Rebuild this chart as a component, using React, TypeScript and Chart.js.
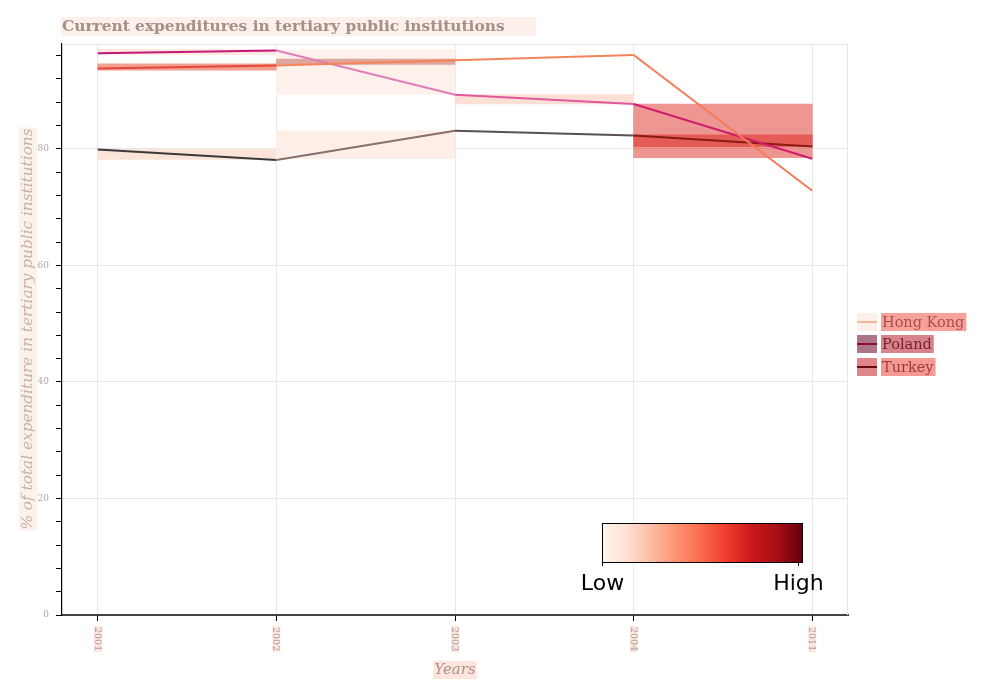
import React, { useEffect, useRef } from 'react';
import { Chart, registerables } from 'chart.js';

Chart.register(...registerables);

// ---- data ----
const years = ['2001', '2002', '2003', '2004', '2011'];
const seriesNames = ['Hong Kong', 'Poland', 'Turkey'];
const hongKong = [93.8, 94.3, 95.2, 96.1, 72.8];
const poland = [96.4, 96.9, 89.3, 87.7, 78.3];
const turkey = [79.9, 78.1, 83.1, 82.3, 80.4];

// interval bands between consecutive years: [low, high] or null
const hongKongBands = [[93.5, 94.6], [94.5, 95.4], null, null];
const polandBands = [[96.2, 97.1], [89.4, 97.0], [87.7, 89.3], [78.5, 87.7]];
const turkeyBands = [[78.2, 79.9], [78.3, 83.1], null, [80.4, 82.4]];

const yMajorTicks = [0, 20, 40, 60, 80];
const yMinorStep = 4;
const colorbarLabels = ['Low', 'High'];

const titleText = 'Current expenditures in tertiary public institutions';
const yTitleText = '% of total expenditure in tertiary public institutions';
const xTitleText = 'Years';

// ---- styles ----
const hkSegColors = ['#e5483a', '#f4845a', '#f4845a', '#f47b55'];
const plSegColors = ['#c0197a', '#e27dba', '#dd5a9c', '#cf1d6c'];
const trSegColors = ['#3a3a3a', '#877069', '#5a5250', '#8a1a14'];
const hkBandColors = ['#f2a08e', '#dea69d', null, null];
const plBandColors = ['#fde7de', '#fef0eb', '#fde0d5', 'rgba(222,45,38,0.5)'];
const trBandColors = ['#fce3d8', '#fdeee8', null, 'rgba(222,45,38,0.55)'];
const legendStyles = [
  { patch: '#fdf0ea', line: '#f9b399', textBg: '#f5a29a', text: '#b04b4b' },
  { patch: '#ad7686', line: '#8a0a45', textBg: '#d7838b', text: '#7a1f30' },
  { patch: '#df868a', line: '#680c10', textBg: '#f29a93', text: '#a23a3a' },
];
const redsStops = ['#fff5f0', '#fee0d2', '#fcbba1', '#fc9272', '#fb6a4a', '#ef3b2c', '#cb181d', '#a50f15', '#67000d'];

const SERIF = '"DejaVu Serif", serif';
const SANS = '"DejaVu Sans", sans-serif';

function lineDataset(label: string, values: number[], segColors: string[], order: number) {
  return {
    type: 'line' as const,
    label,
    data: values.map((v, i) => ({ x: i, y: v })),
    borderColor: segColors[0],
    borderWidth: 2,
    pointRadius: 0,
    pointHoverRadius: 0,
    tension: 0,
    fill: false,
    order,
    segment: { borderColor: (ctx: any) => segColors[ctx.p0DataIndex] },
  };
}

function bandDataset(label: string, bands: (number[] | null)[], colors: (string | null)[], order: number) {
  const data: any[] = [];
  const bg: string[] = [];
  bands.forEach((b, i) => {
    if (b) {
      data.push({ x: i + 0.5, y: b });
      bg.push(colors[i] as string);
    }
  });
  return {
    type: 'bar' as const,
    label: label + ' band',
    data,
    backgroundColor: bg,
    borderWidth: 0,
    grouped: false,
    barPercentage: 1,
    categoryPercentage: 1,
    order,
  };
}

const decorPlugin = {
  id: 'decor',
  beforeDraw(chart: any) {
    const ctx = chart.ctx as CanvasRenderingContext2D;
    const ca = chart.chartArea;
    ctx.save();
    // title
    ctx.fillStyle = '#fdefe9';
    ctx.fillRect(ca.left - 1, 17, 475, 19);
    ctx.font = `bold 15.4px ${SERIF}`;
    ctx.fillStyle = '#a39088';
    ctx.textAlign = 'left';
    ctx.textBaseline = 'middle';
    ctx.fillText(titleText, ca.left, 27);

    // y title
    ctx.save();
    ctx.translate(28, 329);
    ctx.rotate(-Math.PI / 2);
    ctx.font = `italic 15.3px ${SERIF}`;
    const yw = ctx.measureText(yTitleText).width;
    ctx.fillStyle = '#fdf1ec';
    ctx.fillRect(-yw / 2 - 1, -9, yw + 2, 18);
    ctx.fillStyle = '#c5b0ac';
    ctx.textAlign = 'center';
    ctx.textBaseline = 'middle';
    ctx.fillText(yTitleText, 0, 0);
    ctx.restore();

    // x title
    ctx.font = `italic 15px ${SERIF}`;
    const xw = ctx.measureText(xTitleText).width;
    const xc = (ca.left + ca.right) / 2;
    ctx.fillStyle = '#fde4dc';
    ctx.fillRect(xc - xw / 2 - 1, 661, xw + 2, 18);
    ctx.fillStyle = '#a8958e';
    ctx.textAlign = 'center';
    ctx.textBaseline = 'middle';
    ctx.fillText(xTitleText, xc, 670);
    ctx.restore();
  },
  afterDraw(chart: any) {
    const ctx = chart.ctx as CanvasRenderingContext2D;
    const ca = chart.chartArea;
    const xs = chart.scales.x;
    ctx.save();

    // top/right frame
    ctx.strokeStyle = '#e6e6e6';
    ctx.lineWidth = 1;
    ctx.beginPath();
    ctx.moveTo(ca.left, ca.top + 0.5);
    ctx.lineTo(ca.right, ca.top + 0.5);
    ctx.moveTo(ca.right - 0.5, ca.top);
    ctx.lineTo(ca.right - 0.5, ca.bottom);
    ctx.stroke();

    // x tick labels, rotated clockwise
    ctx.font = `9.5px ${SERIF}`;
    years.forEach((label, i) => {
      const px = xs.getPixelForValue(i);
      const w = ctx.measureText(label).width;
      ctx.save();
      ctx.translate(px, ca.bottom + 12);
      ctx.rotate(Math.PI / 2);
      ctx.fillStyle = '#fce6df';
      ctx.fillRect(-1, -4, w + 2, 8);
      ctx.fillStyle = '#ad9d97';
      ctx.textAlign = 'left';
      ctx.textBaseline = 'middle';
      ctx.fillText(label, 0, 0.5);
      ctx.restore();
    });

    // legend
    const lineSets = chart.data.datasets.filter((d: any) => d.type === 'line');
    const lx = ca.right + 9;
    const rowYs = [313, 335, 358];
    ctx.font = `14.5px ${SERIF}`;
    lineSets.forEach((ds: any, i: number) => {
      const st = legendStyles[i];
      const y = rowYs[i];
      ctx.fillStyle = st.patch;
      ctx.fillRect(lx, y, 20, 18);
      ctx.strokeStyle = st.line;
      ctx.lineWidth = 2;
      ctx.beginPath();
      ctx.moveTo(lx, y + 9);
      ctx.lineTo(lx + 20, y + 9);
      ctx.stroke();
      const tw = ctx.measureText(ds.label).width;
      ctx.fillStyle = st.textBg;
      ctx.fillRect(lx + 24, y, tw + 3, 18);
      ctx.fillStyle = st.text;
      ctx.textAlign = 'left';
      ctx.textBaseline = 'middle';
      ctx.fillText(ds.label, lx + 25, y + 10);
    });

    // colorbar
    const cbx = 602, cby = 523, cbw = 200, cbh = 39;
    const grad = ctx.createLinearGradient(cbx, 0, cbx + cbw, 0);
    redsStops.forEach((c, i) => grad.addColorStop(i / (redsStops.length - 1), c));
    ctx.fillStyle = grad;
    ctx.fillRect(cbx, cby, cbw, cbh);
    ctx.strokeStyle = '#000';
    ctx.lineWidth = 1;
    ctx.strokeRect(cbx + 0.5, cby + 0.5, cbw, cbh);
    const tickXs = [cbx + 0.5, cbx + cbw - 3.5];
    ctx.beginPath();
    tickXs.forEach((tx) => {
      ctx.moveTo(tx, cby + cbh);
      ctx.lineTo(tx, cby + cbh + 4);
    });
    ctx.stroke();
    ctx.font = `22px ${SANS}`;
    ctx.fillStyle = '#000';
    ctx.textAlign = 'center';
    ctx.textBaseline = 'alphabetic';
    colorbarLabels.forEach((lab, i) => ctx.fillText(lab, tickXs[i], 590));

    ctx.restore();
  },
};

export default function App() {
  const ref = useRef<HTMLCanvasElement>(null);
  useEffect(() => {
    const canvas = ref.current!;
    const chart = new Chart(canvas, {
      type: 'line',
      data: {
        datasets: [
          lineDataset(seriesNames[0], hongKong, hkSegColors, -3),
          lineDataset(seriesNames[1], poland, plSegColors, -2),
          lineDataset(seriesNames[2], turkey, trSegColors, -1),
          bandDataset(seriesNames[0], hongKongBands, hkBandColors, 1),
          bandDataset(seriesNames[1], polandBands, plBandColors, 2),
          bandDataset(seriesNames[2], turkeyBands, trBandColors, 3),
        ] as any,
      },
      options: {
        animation: false,
        responsive: false,
        layout: { padding: { top: 44, right: 134, left: 0, bottom: 0 } },
        plugins: {
          legend: { display: false },
          tooltip: { enabled: false },
          title: { display: false },
        },
        events: [],
        scales: {
          x: {
            type: 'linear',
            min: -0.2,
            max: 4.2,
            offset: false,
            afterBuildTicks: (s: any) => {
              s.ticks = years.map((_, i) => ({ value: i }));
            },
            afterFit: (s: any) => {
              s.height = 78;
            },
            ticks: { display: false },
            grid: {
              offset: false,
              color: '#e8e8e8',
              lineWidth: 1,
              drawTicks: true,
              tickLength: 6,
              tickColor: '#000',
              tickWidth: 1,
            },
            border: { display: true, color: '#444', width: 2 },
          },
          y: {
            type: 'linear',
            min: 0,
            max: 98,
            afterBuildTicks: (s: any) => {
              const t: any[] = [];
              for (let v = 0; v <= yMajorTicks[yMajorTicks.length - 1] + 16; v += yMinorStep) t.push({ value: v });
              s.ticks = t;
            },
            afterFit: (s: any) => {
              s.width = 62;
            },
            ticks: {
              autoSkip: false,
              padding: 7,
              color: '#b3a3a0',
              font: { family: 'DejaVu Serif', size: 9 },
              callback: (v: any) => (yMajorTicks.includes(v) ? String(v) : ''),
            },
            grid: {
              color: (c: any) => (c.tick && yMajorTicks.includes(c.tick.value) ? '#e6e6e6' : 'rgba(0,0,0,0)'),
              tickColor: '#000',
              tickLength: 6,
              drawTicks: true,
            },
            border: { display: true, color: '#000', width: 1.2 },
          },
        },
      } as any,
      plugins: [decorPlugin],
    });
    return () => chart.destroy();
  }, []);
  return (
    <div style={{ position: 'absolute', left: 0, top: 0, width: 982, height: 693, background: '#fff' }}>
      <canvas ref={ref} width={982} height={693} style={{ display: 'block' }} />
    </div>
  );
}
